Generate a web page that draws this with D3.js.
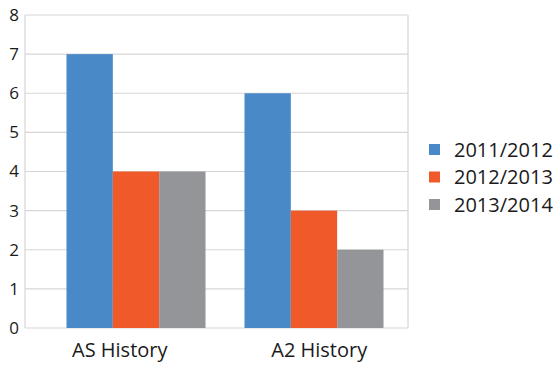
<!DOCTYPE html>
<html>
<head>
<meta charset="utf-8">
<script src="https://cdn.jsdelivr.net/npm/d3@7"></script>
<style>
  html, body { margin: 0; padding: 0; background: #fff; }
  svg { display: block; font-family: "Open Sans", sans-serif; }
</style>
</head>
<body>
<svg id="chart" width="556" height="365"></svg>
<script>
// Subjects and enrolment counts per academic year
const categories = ["AS History", "A2 History"];
const seriesNames = ["2011/2012", "2012/2013", "2013/2014"];
const values2011 = [7, 6];
const values2012 = [4, 3];
const values2013 = [4, 2];
const yTicks = [0, 1, 2, 3, 4, 5, 6, 7, 8];
const colors = ["#4a89c8", "#f05a2a", "#939598"];

const seriesValues = [values2011, values2012, values2013];

const svg = d3.select("#chart");
const plot = { left: 25, right: 408, top: 15, bottom: 328 };

const y = d3.scaleLinear().domain([0, 8]).range([plot.bottom, plot.top]);

// Bars are grouped with a band scale; category labels use a slightly wider band
const x = d3.scaleBand().domain(categories).range([47, 403])
  .paddingInner(0.219).paddingOuter(0.1095);
const xLabel = d3.scaleBand().domain(categories).range([20, 419]);
const xInner = d3.scaleBand().domain(seriesNames).range([0, x.bandwidth()]);

// Horizontal gridlines
svg.append("g")
  .selectAll("line")
  .data(yTicks)
  .join("line")
  .attr("x1", plot.left).attr("x2", plot.right)
  .attr("y1", d => y(d)).attr("y2", d => y(d))
  .attr("stroke", "#d6d6d6").attr("stroke-width", 1.2);

// Plot frame sides
svg.append("line")
  .attr("x1", plot.left).attr("x2", plot.left)
  .attr("y1", plot.top).attr("y2", plot.bottom)
  .attr("stroke", "#d6d6d6").attr("stroke-width", 1.2);
svg.append("line")
  .attr("x1", plot.right).attr("x2", plot.right)
  .attr("y1", plot.top).attr("y2", plot.bottom)
  .attr("stroke", "#d6d6d6").attr("stroke-width", 1.2);

// Y axis labels
const yAxis = d3.axisLeft(y).tickValues(yTicks).tickSize(0).tickPadding(0);
const yg = svg.append("g").attr("transform", "translate(19,0)").call(yAxis);
yg.select(".domain").remove();
yg.selectAll("text")
  .attr("font-size", 17).attr("fill", "#1a1a1a")
  .attr("font-family", "Open Sans, sans-serif");

// Bars
const groups = svg.append("g")
  .selectAll("g")
  .data(categories)
  .join("g")
  .attr("transform", d => `translate(${x(d)},0)`);

groups.selectAll("rect")
  .data((c, ci) => seriesNames.map((s, si) => ({ s, si, v: seriesValues[si][ci] })))
  .join("rect")
  .attr("x", d => xInner(d.s))
  .attr("width", xInner.bandwidth())
  .attr("y", d => y(d.v))
  .attr("height", d => y(0) - y(d.v))
  .attr("fill", d => colors[d.si]);

// Category axis labels
const xAxis = d3.axisBottom(xLabel).tickSize(0).tickPadding(0);
const xg = svg.append("g").attr("transform", "translate(0,343)").call(xAxis);
xg.select(".domain").remove();
xg.selectAll("text")
  .attr("font-size", 20).attr("fill", "#1a1a1a")
  .attr("font-family", "Open Sans, sans-serif");

// Legend
const legend = svg.append("g").attr("transform", "translate(429,144)");
const items = legend.selectAll("g")
  .data(seriesNames)
  .join("g")
  .attr("transform", (d, i) => `translate(0,${i * 27.5})`);
items.append("rect")
  .attr("width", 11).attr("height", 11)
  .attr("fill", (d, i) => colors[i]);
items.append("text")
  .attr("x", 25).attr("y", 12.5)
  .attr("font-size", 20).attr("fill", "#1a1a1a")
  .text(d => d);
</script>
</body>
</html>
